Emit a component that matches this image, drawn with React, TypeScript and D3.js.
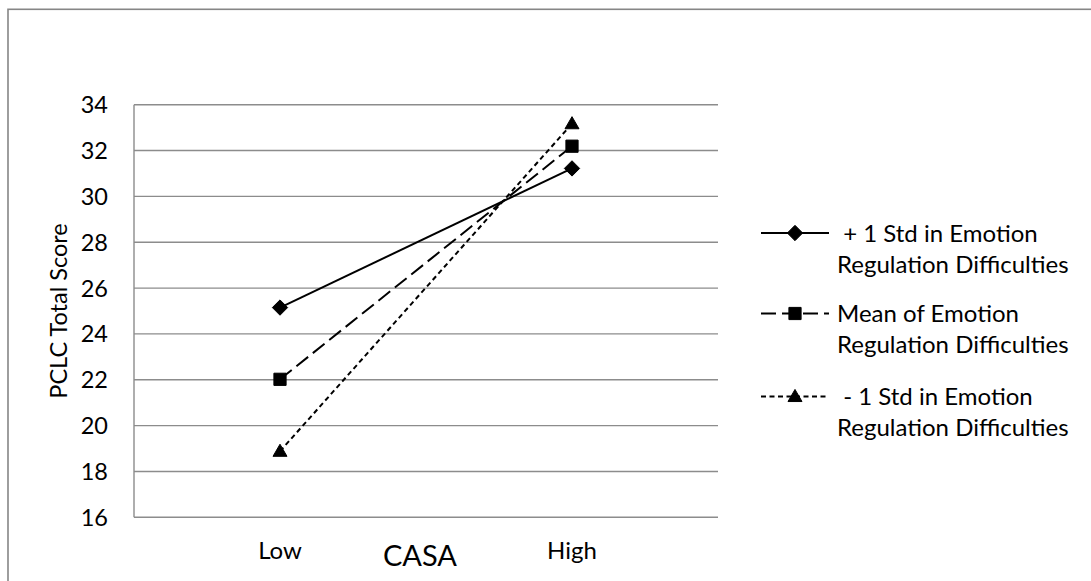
import React from "react";
import * as d3 from "d3";

const categories = ["Low", "High"];
const yTicks = [16, 18, 20, 22, 24, 26, 28, 30, 32, 34];
const seriesNames = ["+1 Std", "Mean", "-1 Std"];
const plusOneStd = [25.15, 31.22];
const meanValues = [22.02, 32.19];
const minusOneStd = [18.88, 33.17];
const legendLines = [
  [" + 1 Std in Emotion", "Regulation Difficulties"],
  ["Mean of Emotion", "Regulation Difficulties"],
  [" - 1 Std in Emotion", "Regulation Difficulties"],
];
const xTitle = "CASA";
const yTitle = "PCLC Total Score";

const W = 1091;
const H = 581;
const FONT = "Lato, 'Open Sans', sans-serif";

const seriesData = [plusOneStd, meanValues, minusOneStd];
const dashes = ["none", "15,6", "5,3.5"];
const markers = ["diamond", "square", "triangle"];

function Marker({ type, x, y }: { type: string; x: number; y: number }) {
  const sym =
    type === "diamond" ? d3.symbolDiamond2 : type === "square" ? d3.symbolSquare2 : d3.symbolTriangle2;
  const size = type === "diamond" ? 150 : type === "square" ? 190 : 140;
  const path = d3.symbol(sym, size)() as string;
  const dy = type === "triangle" ? 1 : 0;
  return <path d={path} transform={`translate(${x},${y + dy})`} fill="#000" stroke="#000" strokeWidth={1} />;
}

export default function App() {
  const plotLeft = 134;
  const plotRight = 718;
  const plotTop = 104.7;
  const plotBottom = 517.3;

  const x = d3.scaleBand().domain(categories).range([plotLeft, plotRight]);
  const y = d3.scaleLinear().domain([16, 34]).range([plotBottom, plotTop]);
  const cx = (c: string) => (x(c) as number) + x.bandwidth() / 2;

  const line = d3
    .line<number>()
    .x((_, i) => cx(categories[i]))
    .y((d) => y(d));

  const legendX0 = 761;
  const legendX1 = 829;
  const legendMid = 795;
  const legendY = [233, 313.5, 396.5];

  return (
    <svg
      width={W}
      height={H}
      style={{ position: "absolute", left: 0, top: 0, background: "#fff" }}
      fontFamily={FONT}
    >
      <rect x={0} y={0} width={W} height={H} fill="#fff" />
      <rect x={8} y={9.3} width={W + 20} height={H + 20} fill="none" stroke="#868686" strokeWidth={1.6} />

      {yTicks.map((t) => (
        <line key={t} x1={plotLeft} x2={plotRight} y1={y(t)} y2={y(t)} stroke="#8c8c8c" strokeWidth={1.4} />
      ))}
      <line x1={plotLeft} x2={plotLeft} y1={plotTop} y2={plotBottom} stroke="#8c8c8c" strokeWidth={1.4} />

      {yTicks.map((t) => (
        <text key={t} x={108} y={y(t)} dy="0.36em" textAnchor="end" fontSize={23.5} fill="#000">
          {t}
        </text>
      ))}

      {categories.map((c) => (
        <text key={c} x={cx(c)} y={559} textAnchor="middle" fontSize={24} fill="#000">
          {c}
        </text>
      ))}

      <text x={420} y={565.5} textAnchor="middle" fontSize={29} fill="#000">
        {xTitle}
      </text>
      <text
        transform={`translate(${67},${(plotTop + plotBottom) / 2}) rotate(-90)`}
        textAnchor="middle"
        fontSize={23.5}
        fill="#000"
      >
        {yTitle}
      </text>

      {seriesData.map((d, i) => (
        <g key={seriesNames[i]}>
          <path d={line(d) as string} fill="none" stroke="#000" strokeWidth={2} strokeDasharray={dashes[i]} />
          {d.map((v, j) => (
            <Marker key={j} type={markers[i]} x={cx(categories[j])} y={y(v)} />
          ))}
        </g>
      ))}

      {legendLines.map((lines, i) => (
        <g key={i}>
          <line
            x1={legendX0}
            x2={legendX1}
            y1={legendY[i]}
            y2={legendY[i]}
            stroke="#000"
            strokeWidth={2}
            strokeDasharray={dashes[i]}
          />
          <Marker type={markers[i]} x={legendMid} y={legendY[i]} />
          {lines.map((l, k) => (
            <text
              key={k}
              x={837}
              y={legendY[i] + 8.5 + k * 31}
              fontSize={24}
              fill="#000"
              style={{ whiteSpace: "pre" }}
            >
              {l}
            </text>
          ))}
        </g>
      ))}
    </svg>
  );
}
